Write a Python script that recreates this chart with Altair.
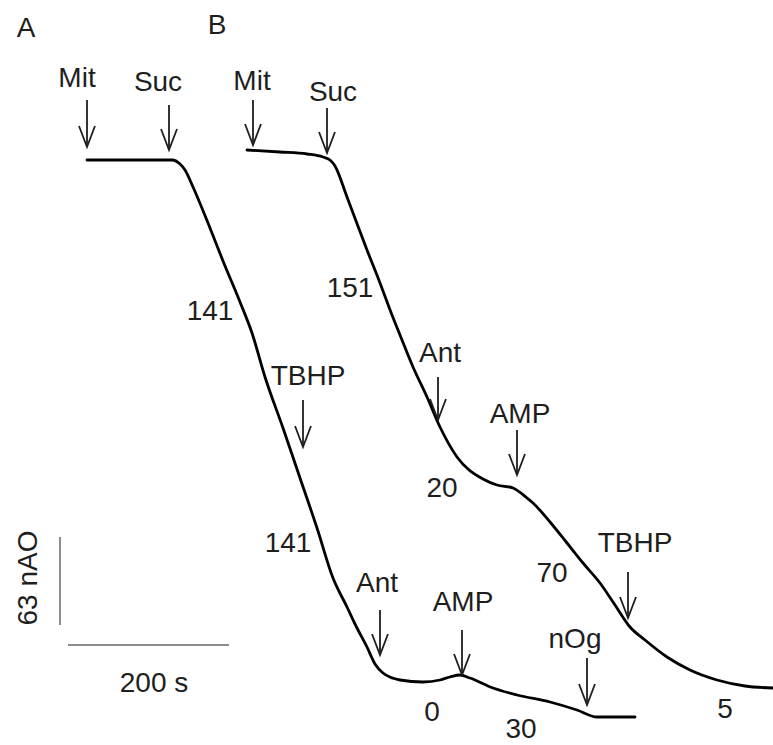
import altair as alt
import pandas as pd

W, H = 773, 745

# ---- traces (figure units: x to the right, y downward) ----
trace_a_x = [87, 130, 172, 180, 185, 193, 210, 223, 240, 252, 265, 283, 300, 317, 333,
             347, 357, 367, 375, 383, 400, 423, 440, 450, 460, 470, 493, 517, 550, 577,
             597, 635]
trace_a_y = [160, 160, 160, 164, 170, 187, 228, 261, 302, 333, 377, 428, 478, 528, 578,
             607, 628, 647, 664, 673, 680, 682, 680, 677, 675, 678, 688, 695, 702, 710,
             717, 717]

trace_b_x = [247, 280, 307, 323, 330, 335, 347, 367, 380, 392, 400, 413, 427, 440, 457,
             483, 497, 513, 527, 533, 550, 567, 583, 600, 615, 630, 645, 667, 690, 717,
             745, 773]
trace_b_y = [150, 152, 154, 157, 160, 166, 197, 250, 283, 315, 335, 367, 397, 427, 457,
             479, 485, 488, 498, 503, 522, 543, 563, 583, 605, 627, 640, 657, 670, 680,
             686, 688]

# ---- additions (arrows) ----
arrow_label = ["Mit", "Suc", "TBHP", "Ant", "AMP", "nOg", "Mit", "Suc", "Ant", "AMP", "TBHP"]
arrow_x = [87, 169, 303, 380, 462, 587, 253, 327, 438, 517, 628]
arrow_top = [100, 105, 400, 610, 630, 658, 100, 108, 377, 430, 572]
arrow_tip = [147, 150, 447, 655, 675, 705, 145, 153, 420, 475, 618]
label_x = [77, 158, 308, 377, 463, 575, 252, 333, 440, 520, 635]
label_y = [77, 81, 375, 582, 601, 638, 80, 91, 352, 413, 542]

# ---- respiration rates ----
rate_text = ["141", "141", "0", "30", "151", "20", "70", "5"]
rate_x = [210, 288, 432, 521, 350, 442, 552, 725]
rate_y = [310, 542, 711, 728, 287, 487, 572, 708]

# ---- scale bars ----
vbar = {"x": [60], "y": [537], "y2": [625]}
hbar = {"x": [68], "x2": [229], "y": [645]}
bar_text = ["63 nAO", "200 s"]
bar_text_x = [27, 154]
bar_text_y = [578, 682]
bar_text_angle = [270, 0]

panel_text = ["A", "B"]
panel_x = [26, 217]
panel_y = [27, 24]

FONT = "Liberation Sans"
TXT = "#1e1e1e"
FS = 28

xs = alt.Scale(domain=[0, W], nice=False, zero=False)
ys = alt.Scale(domain=[0, H], nice=False, zero=False, reverse=True)

def X(f="x"):
    return alt.X(f"{f}:Q", scale=xs, axis=None)

def Y(f="y"):
    return alt.Y(f"{f}:Q", scale=ys, axis=None)

traces = pd.concat([
    pd.DataFrame({"x": trace_a_x, "y": trace_a_y, "trace": "A", "o": range(len(trace_a_x))}),
    pd.DataFrame({"x": trace_b_x, "y": trace_b_y, "trace": "B", "o": range(len(trace_b_x))}),
])

lines = alt.Chart(traces).mark_line(
    color="black", strokeWidth=2.8, interpolate="monotone", strokeCap="round", strokeJoin="round"
).encode(x=X(), y=Y(), detail="trace:N", order="o:Q")

arrows = pd.DataFrame({"label": arrow_label, "x": arrow_x, "top": arrow_top, "tip": arrow_tip,
                       "lx": label_x, "ly": label_y})

shafts = alt.Chart(arrows).mark_rule(color=TXT, strokeWidth=1.8).encode(
    x=X(), y=Y("top"), y2="tip:Q")

heads = alt.Chart(arrows).mark_point(
    shape="M-0.38,-1L0,0L0.38,-1", filled=False, color=TXT, strokeWidth=1.8,
    size=1764, opacity=1
).encode(x=X(), y=Y("tip"))

arrow_text = alt.Chart(arrows).mark_text(
    font=FONT, fontSize=FS, color=TXT, align="center", baseline="middle", dy=2
).encode(x=X("lx"), y=Y("ly"), text="label:N")

rates = pd.DataFrame({"t": rate_text, "x": rate_x, "y": rate_y})
rate_marks = alt.Chart(rates).mark_text(
    font=FONT, fontSize=FS, color=TXT, align="center", baseline="middle", dy=2
).encode(x=X(), y=Y(), text="t:N")

vrule = alt.Chart(pd.DataFrame(vbar)).mark_rule(color="#8c8c8c", strokeWidth=2).encode(
    x=X(), y=Y(), y2="y2:Q")
hrule = alt.Chart(pd.DataFrame(hbar)).mark_rule(color="#8c8c8c", strokeWidth=2).encode(
    x=X(), x2="x2:Q", y=Y())

bt = pd.DataFrame({"t": bar_text, "x": bar_text_x, "y": bar_text_y, "a": bar_text_angle})
bar_labels = alt.layer(*[
    alt.Chart(bt[bt["a"] == a]).mark_text(
        font=FONT, fontSize=FS, color=TXT, align="center", baseline="middle", angle=a, dy=2
    ).encode(x=X(), y=Y(), text="t:N")
    for a in bar_text_angle
])

panels = alt.Chart(pd.DataFrame({"t": panel_text, "x": panel_x, "y": panel_y})).mark_text(
    font=FONT, fontSize=28, color=TXT, align="center", baseline="middle", dy=2
).encode(x=X(), y=Y(), text="t:N")

chart = alt.layer(
    vrule, hrule, bar_labels, panels, lines, shafts, heads, arrow_text, rate_marks
).properties(
    width=W, height=H, background="white", padding=0,
    autosize=alt.AutoSizeParams(type="none")
).configure_view(stroke=None)

chart.save("out.html", embed_options={"renderer": "svg", "actions": False})
